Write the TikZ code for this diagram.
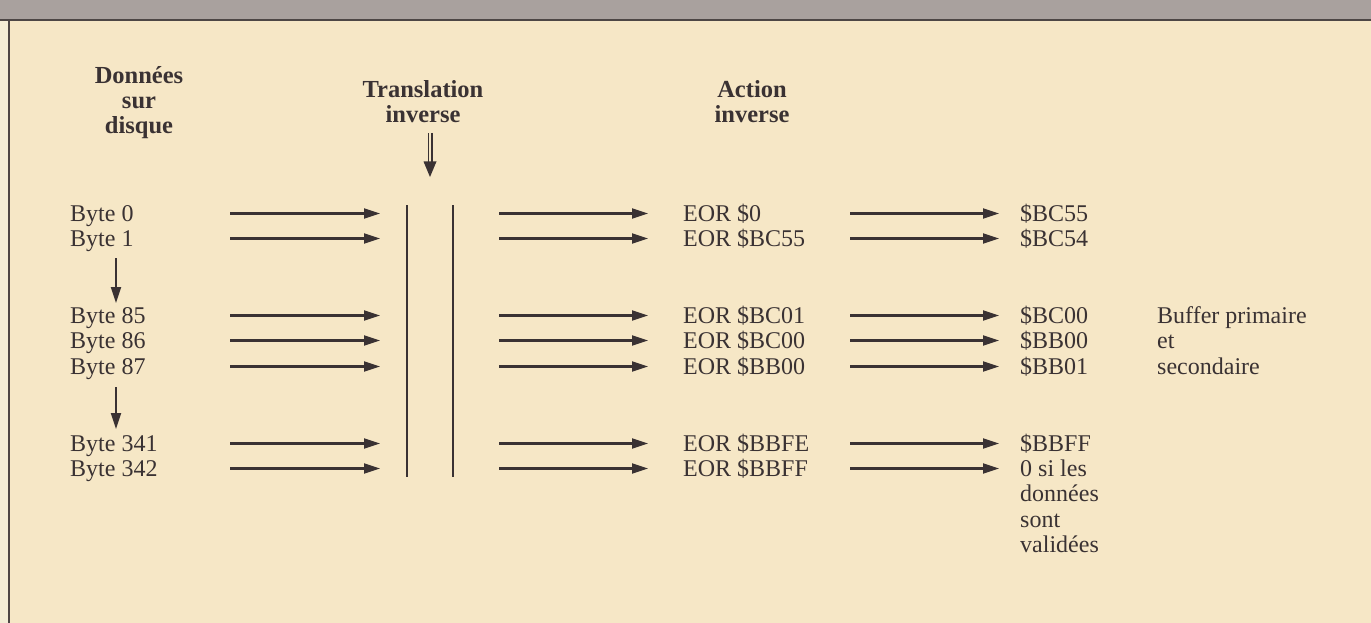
\documentclass[tikz,border=0pt]{standalone}
\usepackage{fontspec}
\setmainfont{Liberation Serif}
\usetikzlibrary{arrows.meta}
\definecolor{paper}{HTML}{F6E7C6}
\definecolor{ink}{HTML}{3A3233}
\definecolor{band}{HTML}{A9A19E}
\definecolor{rulec}{HTML}{4D4645}
\definecolor{margin}{HTML}{F4EDD6}
\begin{document}
\begin{tikzpicture}[x=1pt,y=-1pt,
  txt/.style={inner sep=0pt, anchor=base west, font=\fontsize{24}{25}\selectfont, text=ink},
  headtxt/.style={inner sep=0pt, anchor=base, align=center, font=\fontsize{24.5}{25}\selectfont\bfseries, text=ink},
  notetxt/.style={inner sep=0pt, anchor=base west, align=left, font=\fontsize{24}{25.5}\selectfont, text=ink},
  flow/.style={draw=ink, line width=2.1pt, -{Triangle[length=16pt,width=10pt]}},
  bar/.style={draw=ink, line width=1.9pt}]
\useasboundingbox (0,0) rectangle (1371,623);
\fill[paper] (0,0) rectangle (1371,623);
\fill[margin] (0,21) rectangle (8.4,623);
\fill[band] (0,0) rectangle (1371,19);
\draw[rulec, line width=2pt] (0,20) -- (1371,20);
\draw[rulec, line width=1.2pt] (9,20) -- (9,623);
% headers (anchor base = baseline of last line)
\node[headtxt] (h1) at (139,134) {Données\\sur\\disque};
\node[headtxt] (h2) at (423,123) {Translation\\inverse};
\node[headtxt] (h3) at (752,123) {Action\\inverse};
% column coordinates
\coordinate (c1s) at (230,0);
\coordinate (c1e) at (380,0);
\coordinate (c2s) at (499,0);
\coordinate (c2e) at (648,0);
\coordinate (c3s) at (850,0);
\coordinate (c3e) at (999,0);
% translation bars
\coordinate (t1a) at (407,205);
\coordinate (t1b) at (407,477);
\coordinate (t2a) at (453,205);
\coordinate (t2b) at (453,477);
\draw[bar] (t1a) -- (t1b);
\draw[bar] (t2a) -- (t2b);
% double arrow
\coordinate (da) at (430,133);
\coordinate (db) at (430,164);
\coordinate (dtip) at (430,177);
\draw[draw=ink, double=paper, double distance=2.6pt, line width=1.2pt] (da) -- (db);
\fill[ink] (423.5,161.5) -- (436.5,161.5) -- (dtip) -- cycle;
% rows
\foreach \i/\yb/\a/\b/\c in {0/221/Byte 0/EOR \$0/\$BC55,
                             1/246/Byte 1/EOR \$BC55/\$BC54,
                             2/323/Byte 85/EOR \$BC01/\$BC00,
                             3/348/Byte 86/EOR \$BC00/\$BB00,
                             4/374/Byte 87/EOR \$BB00/\$BB01,
                             5/451/Byte 341/EOR \$BBFE/\$BBFF}{
  \node[txt] (b\i) at (70,\yb) {\a};
  \node[txt] (e\i) at (683,\yb) {\b};
  \node[txt] (r\i) at (1020,\yb) {\c};
}
\node[txt] (b6) at (70,476) {Byte 342};
\node[txt] (e6) at (683,476) {EOR \$BBFF};
\node[notetxt] (r6) at (1020,552.5) {0 si les\\données\\sont\\validées};
\node[notetxt] (buf) at (1157,374) {Buffer primaire\\et\\secondaire};
\foreach \i in {0,...,6}{
  \coordinate (y\i) at ([yshift=7.5pt]b\i.base);
  \draw[flow] (y\i -| c1s) -- (y\i -| c1e);
  \draw[flow] (y\i -| c2s) -- (y\i -| c2e);
  \draw[flow] (y\i -| c3s) -- (y\i -| c3e);
}
% down arrows
\coordinate (d1a) at (116,258);
\coordinate (d1b) at (116,303);
\coordinate (d2a) at (116,387);
\coordinate (d2b) at (116,429);
\draw[flow] (d1a) -- (d1b);
\draw[flow] (d2a) -- (d2b);
\end{tikzpicture}
\end{document}
